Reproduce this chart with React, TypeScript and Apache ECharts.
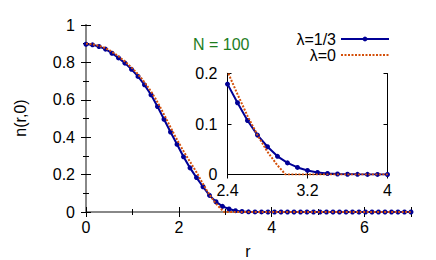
import React, { useEffect, useRef } from 'react';
import * as echarts from 'echarts';

// λ = 1/3 : main panel samples
const rMain = [0, 0.14, 0.28, 0.42, 0.56, 0.7, 0.84, 0.98, 1.12, 1.26, 1.4, 1.54, 1.68, 1.82, 1.96, 2.1, 2.24, 2.38, 2.52, 2.66,
  2.8, 2.94, 3.08, 3.22, 3.36, 3.5, 3.64, 3.78, 3.92, 4.06, 4.2, 4.34, 4.48, 4.62, 4.76, 4.9, 5.04, 5.18, 5.32, 5.46,
  5.6, 5.74, 5.88, 6.02, 6.16, 6.3, 6.44, 6.58, 6.72, 6.86, 7.0];
const nThird = [0.897, 0.894, 0.885, 0.871, 0.849, 0.824, 0.796, 0.763, 0.725, 0.68, 0.627, 0.564, 0.496, 0.428, 0.362, 0.295, 0.236, 0.184, 0.135, 0.089,
  0.055, 0.03, 0.016, 0.007, 0.003, 0.001, 0.0005, 0.0003, 0.0002, 0.0001, 0, 0, 0, 0, 0, 0, 0, 0, 0, 0,
  0, 0, 0, 0, 0, 0, 0, 0, 0, 0, 0];

// λ = 0 curve
const rZero = [0, 0.1, 0.2, 0.3, 0.4, 0.5, 0.6, 0.7, 0.8, 0.9, 1.0, 1.1, 1.2, 1.3, 1.4, 1.5, 1.6, 1.7, 1.8, 1.9,
  2.0, 2.1, 2.2, 2.3, 2.4, 2.5, 2.6, 2.7, 2.8, 2.9, 2.95, 2.98, 3.5, 4, 5, 6, 7];
const nZero = [0.9, 0.898, 0.894, 0.887, 0.878, 0.866, 0.85, 0.833, 0.813, 0.791, 0.768, 0.742, 0.713, 0.68, 0.645, 0.605, 0.56, 0.512, 0.463, 0.415,
  0.369, 0.326, 0.285, 0.245, 0.204, 0.159, 0.116, 0.078, 0.045, 0.018, 0.007, 0, 0, 0, 0, 0, 0];

// λ = 1/3 : inset samples
const rInset = [2.4, 2.5, 2.6, 2.7, 2.8, 2.9, 3.0, 3.1, 3.2, 3.3, 3.4, 3.5, 3.6, 3.7, 3.8, 3.9, 4.0];
const nInsetThird = [0.179, 0.142, 0.107, 0.078, 0.055, 0.036, 0.023, 0.014, 0.008, 0.004, 0.002, 0.001, 0.0005, 0.0003, 0.0002, 0.0001, 0];

const seriesNames = ['λ=1/3', 'λ=0'];
const annotation = 'N = 100';
const xTitle = 'r';
const yTitle = 'n(r,0)';

const FONT = '"Liberation Sans", Arial, sans-serif';
const BLUE = '#000096';
const ORANGE = '#d4500a';
const GREEN = '#1e7d1e';

const zip = (xs: number[], ys: number[]) => xs.map((x, i) => [x, ys[i]]);

export default function App() {
  const ref = useRef<HTMLDivElement>(null);
  useEffect(() => {
    if (!ref.current) return;
    const chart = echarts.init(ref.current, null, { renderer: 'svg' });
    const mainTick = { show: true, inside: true, length: 5, lineStyle: { color: '#000', width: 1 } };
    const mainMinor = { show: true, splitNumber: 2, length: 3, lineStyle: { color: '#000', width: 1 } };
    const mainLine = { show: true, lineStyle: { color: '#888', width: 2 } };
    const lbl = { fontSize: 16, color: '#000', fontFamily: FONT };
    const insetLine = { show: true, lineStyle: { color: '#000', width: 1 } };
    const insetTick = { show: true, inside: true, length: 4, lineStyle: { color: '#000', width: 1 } };
    chart.setOption({
      animation: false,
      textStyle: { fontFamily: FONT },
      grid: [
        { left: 86, top: 25, width: 325, height: 187, show: false },
        { left: 227.5, top: 73.5, width: 160, height: 101, show: true, backgroundColor: '#fff', borderWidth: 0 },
      ],
      legend: {
        data: [
          { name: seriesNames[0] },
          { name: seriesNames[1], itemStyle: { opacity: 0 } },
        ],
        orient: 'vertical',
        align: 'right',
        right: 46,
        top: 31,
        padding: 0,
        itemGap: 0,
        itemWidth: 48,
        itemHeight: 6,
        selectedMode: false,
        textStyle: { fontSize: 16, lineHeight: 16, color: '#000', fontFamily: FONT },
      },
      xAxis: [
        { gridIndex: 0, type: 'value', min: 0, max: 7, interval: 2, position: 'bottom', axisLine: mainLine, axisTick: mainTick, minorTick: mainMinor, splitLine: { show: false }, axisLabel: { ...lbl, margin: 7, showMaxLabel: false } },
        { gridIndex: 0, type: 'value', min: 0, max: 7, interval: 2, position: 'top', axisLine: mainLine, axisTick: mainTick, minorTick: mainMinor, splitLine: { show: false }, axisLabel: { show: false } },
        { gridIndex: 1, type: 'value', min: 2.4, max: 4, interval: 0.8, position: 'bottom', axisLine: insetLine, axisTick: insetTick, splitLine: { show: false }, axisLabel: { ...lbl, margin: 8 } },
        { gridIndex: 1, type: 'value', min: 2.4, max: 4, interval: 0.8, position: 'top', axisLine: insetLine, axisTick: insetTick, splitLine: { show: false }, axisLabel: { show: false } },
      ],
      yAxis: [
        { gridIndex: 0, type: 'value', min: 0, max: 1, interval: 0.2, position: 'left', axisLine: mainLine, axisTick: mainTick, minorTick: mainMinor, splitLine: { show: false }, axisLabel: { ...lbl, margin: 11 } },
        { gridIndex: 0, type: 'value', min: 0, max: 1, interval: 0.2, position: 'right', axisLine: mainLine, axisTick: mainTick, minorTick: mainMinor, splitLine: { show: false }, axisLabel: { show: false } },
        { gridIndex: 1, type: 'value', min: 0, max: 0.2, interval: 0.1, position: 'left', axisLine: insetLine, axisTick: insetTick, splitLine: { show: false }, axisLabel: { ...lbl, margin: 10 } },
        { gridIndex: 1, type: 'value', min: 0, max: 0.2, interval: 0.1, position: 'right', axisLine: insetLine, axisTick: insetTick, splitLine: { show: false }, axisLabel: { show: false } },
      ],
      series: [
        {
          name: seriesNames[0], type: 'line', xAxisIndex: 0, yAxisIndex: 0, data: zip(rMain, nThird),
          symbol: 'circle', symbolSize: 5, showAllSymbol: true, z: 3,
          lineStyle: { color: BLUE, width: 2 }, itemStyle: { color: BLUE },
        },
        {
          name: seriesNames[1], type: 'line', xAxisIndex: 0, yAxisIndex: 0, data: zip(rZero, nZero),
          symbol: 'none', z: 4,
          lineStyle: { color: ORANGE, width: 2, type: [2, 1.5] }, itemStyle: { color: ORANGE },
        },
        {
          name: seriesNames[0], type: 'line', xAxisIndex: 2, yAxisIndex: 2, data: zip(rInset, nInsetThird),
          symbol: 'circle', symbolSize: 5, showAllSymbol: true, z: 3, clip: true,
          lineStyle: { color: BLUE, width: 2 }, itemStyle: { color: BLUE },
        },
        {
          name: seriesNames[1], type: 'line', xAxisIndex: 2, yAxisIndex: 2, data: zip(rZero, nZero),
          symbol: 'none', z: 4, clip: true,
          lineStyle: { color: ORANGE, width: 2, type: [2, 1.5] }, itemStyle: { color: ORANGE },
        },
      ],
      graphic: [
        { type: 'text', x: 193, y: 44, style: { text: annotation, fill: GREEN, fontSize: 16, fontFamily: FONT, align: 'left', verticalAlign: 'middle' } },
        { type: 'text', x: 20, y: 118, rotation: Math.PI / 2, style: { text: yTitle, fill: '#000', fontSize: 16, fontFamily: FONT, align: 'center', verticalAlign: 'middle' } },
        { type: 'text', x: 248, y: 251, style: { text: xTitle, fill: '#000', fontSize: 16, fontFamily: FONT, align: 'center', verticalAlign: 'middle' } },
      ],
    });
    return () => chart.dispose();
  }, []);
  return <div ref={ref} style={{ position: 'absolute', left: 0, top: 0, width: 436, height: 260 }} />;
}
